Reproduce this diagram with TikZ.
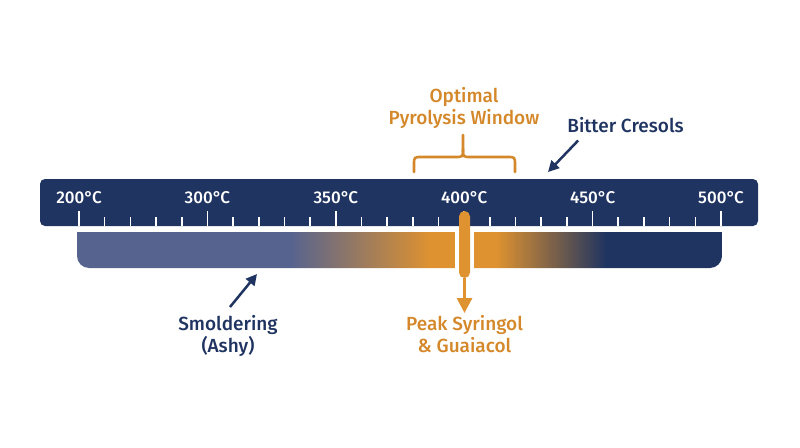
\documentclass[tikz,border=0pt]{standalone}
\usepackage{fontspec}
\setmainfont{Fira Sans}[UprightFont=* Medium,BoldFont=* SemiBold]
\usetikzlibrary{arrows.meta,positioning}
\definecolor{navy}{HTML}{1F3461}
\definecolor{slate}{HTML}{56638F}
\definecolor{amber}{HTML}{DE9230}
\definecolor{ochre}{HTML}{D4882A}
\pgfdeclarehorizontalshading{heat}{100bp}{color(0bp)=(slate); color(25bp)=(slate); color(41.5bp)=(slate); color(52.4bp)=(amber); color(57.5bp)=(amber); color(66bp)=(navy); color(75bp)=(navy); color(100bp)=(navy)}
\tikzset{
  scalebar/.style={draw=none,fill=navy,rounded corners=5pt,inner sep=0},
  ticklbl/.style={text=white,font=\fontsize{17}{20}\selectfont,anchor=base,inner sep=0},
  navylbl/.style={text=navy,font=\fontsize{19}{22}\selectfont,align=center,inner sep=0},
  ochrelbl/.style={text=ochre,font=\fontsize{19}{22}\selectfont,align=center,inner sep=0},
  peakpin/.style={fill=amber,draw=none,rounded corners=5.5pt,inner sep=0,
                  minimum width=11pt,minimum height=67pt},
  navyarrow/.style={-{Triangle[width=11pt,length=11pt]},line width=2.5pt,draw=navy},
  ochrearrow/.style={-{Triangle[width=15pt,length=15pt]},line width=3pt,draw=amber},
  brace/.style={draw=ochre,line width=2.6pt,line cap=round}
}
\begin{document}
\begin{tikzpicture}[x=1pt,y=-1pt]
  \useasboundingbox (0,0) rectangle (800,447);
  % temperature scale
  \node[scalebar,minimum width=718pt,minimum height=47pt] (scale) at (399,202.5) {};
  \foreach \i in {0,...,25}{
    \pgfmathsetmacro{\tx}{79+\i*25.68}
    \ifnum\numexpr\i-5*(\i/5)\relax=0
      \draw[white,line width=1.6pt] (\tx,211) -- (\tx,226);
    \else
      \draw[white,line width=1.6pt] (\tx,217) -- (\tx,226);
    \fi}
  \foreach \t [count=\k from 0] in {200,300,350,400,450,500}
    \node[ticklbl] (t\t) at (79+\k*128.4,203) {\t°\kern-1.2pt C};
  % heat band
  \shade[shading=heat] (77,232) -- (77,256) .. controls (77,262.6) and (82.4,268) .. (89,268)
    -- (710,268) .. controls (716.6,268) and (722,262.6) .. (722,256) -- (722,232) -- cycle;
  \fill[white] (455,230) rectangle (474,270);
  % peak marker
  \node[peakpin] (peak) at (464.5,244.5) {};
  \node[ochrelbl,anchor=north] (peaklbl) at (464.5,315) {Peak Syringol\\\& Guaiacol};
  \draw[ochrearrow] (peak.south) -- ([yshift=2pt]peaklbl.north);
  % side labels
  \node[navylbl,anchor=north] (smold) at (228,315) {Smoldering\\(Ashy)};
  \coordinate (smoldtip) at (257,274);
  \draw[navyarrow] ([shift={(2,-8)}]smold.north) -- (smoldtip);
  \node[navylbl,anchor=base] (bitter) at (625.5,132) {Bitter Cresols};
  \coordinate (cresoltip) at (548,172);
  \draw[navyarrow] ([shift={(11,8)}]bitter.south west) -- (cresoltip);
  % pyrolysis window
  \node[ochrelbl,anchor=north] (window) at (464,87) {Optimal\\Pyrolysis Window};
  \draw[brace] (414,172) -- (414,165) .. controls (414,157) .. (422,157) -- (455,157)
    .. controls (463,157) .. (463,149) -- (463,135);
  \draw[brace] (515,172) -- (515,165) .. controls (515,157) .. (507,157) -- (471,157)
    .. controls (463,157) .. (463,149);
\end{tikzpicture}
\end{document}
